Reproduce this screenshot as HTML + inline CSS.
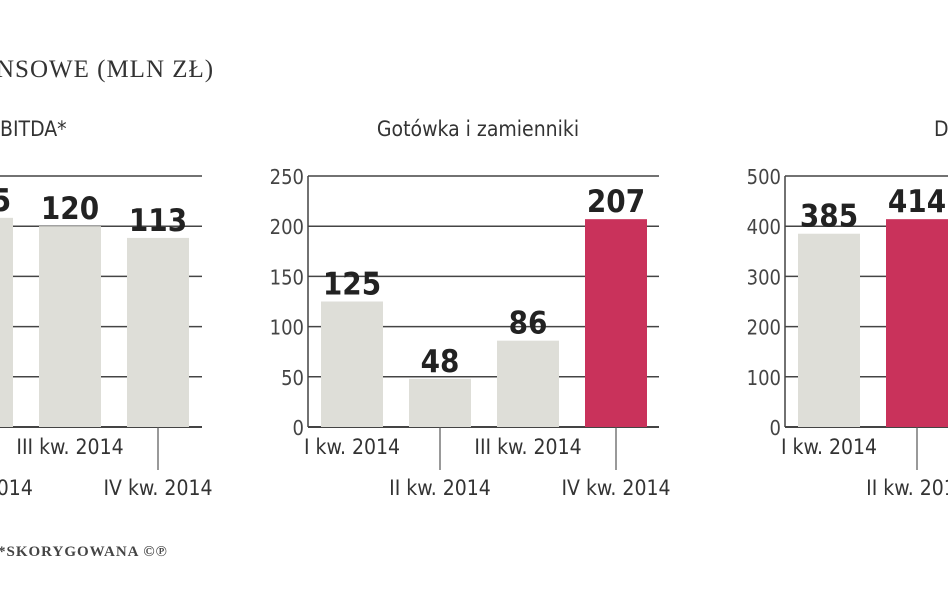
<!DOCTYPE html>
<html><head><meta charset="utf-8">
<style>
html,body{margin:0;padding:0;background:#fff;}
svg{display:block;}
.t{font-family:"Liberation Sans Narrow","DejaVu Sans Condensed","Liberation Sans",sans-serif;}
</style></head>
<body>
<svg id="c" width="948" height="593" viewBox="0 0 948 593" xmlns="http://www.w3.org/2000/svg">
<text x="-4" y="77" font-family="Liberation Serif,serif" font-size="25" fill="#333" letter-spacing="1">NSOWE (MLN ZŁ)</text>
<text class="t" x="0" y="136" font-size="21" fill="#333">BITDA*</text>
<text class="t" x="478" y="136" font-size="21" fill="#333" text-anchor="middle">Gotówka i zamienniki</text>
<text class="t" x="934" y="136" font-size="21" fill="#333">D</text>
<text x="-2" y="556" font-family="Liberation Serif,serif" font-size="15" font-weight="bold" fill="#444" letter-spacing="1">*SKORYGOWANA ©℗</text>
<g id="panels"></g>
</svg>
<script>
const cats = ["I kw. 2014","II kw. 2014","III kw. 2014","IV kw. 2014"];
const ebitdaValues = [110, 125, 120, 113];
const cashValues = [125, 48, 86, 207];
const debtValues = [385, 414, 400, 400];
const ebitdaTicks = [0, 30, 60, 90, 120, 150];
const cashTicks = [0, 50, 100, 150, 200, 250];
const debtTicks = [0, 100, 200, 300, 400, 500];
const ebitdaHighlight = [false,false,false,false];
const cashHighlight = [false,false,false,true];
const debtHighlight = [false,true,true,true];

const NS = "http://www.w3.org/2000/svg";
const root = document.getElementById('panels');
function mk(tag, attrs, parent){
  const e = document.createElementNS(NS, tag);
  for (const k in attrs) e.setAttribute(k, attrs[k]);
  (parent||root).appendChild(e);
  return e;
}
function panel(name, axisX, rightX, vals, ticks, hi, showAxis){
  const g = mk('g', {});
  
  
  const base = 427, top = 176;
  const maxV = ticks[ticks.length-1];
  const y = v => base - (v / maxV) * (base - top);
  const bx = i => axisX + 13 + i * 88;
  const bw = 62;
  ticks.forEach((t, i) => {
    const l = mk('line', {x1: axisX, x2: rightX, y1: y(t), y2: y(t), stroke: '#444', 'stroke-width': i === 0 ? 2 : 1.5}, g);
    
    
    if (showAxis) {
      const tx = mk('text', {x: axisX - 4, y: y(t) + 8, 'font-size': 20, fill: '#444', 'text-anchor': 'end', class: 't'}, g);
      tx.textContent = t;
      
      
    }
  });
  const ax = mk('line', {x1: axisX, x2: axisX, y1: top, y2: base, stroke: '#444', 'stroke-width': 1.5}, g);
  
  
  vals.forEach((v, i) => {
    const x = bx(i);
    if (x > 948) return;
    const r = mk('rect', {x: x, y: y(v), width: bw, height: base - y(v), fill: hi[i] ? '#c9325b' : '#deded8'}, g);
    
    
    const vt = mk('text', {x: x + bw/2, y: y(v) - 7, 'font-size': 31, 'font-weight': 'bold', fill: '#222', 'text-anchor': 'middle', class: 't'}, g);
    vt.textContent = v;
    
    
    const lower = i % 2 === 1;
    if (lower) {
      const tk = mk('line', {x1: x + bw/2, x2: x + bw/2, y1: base, y2: base + 43, stroke: '#555', 'stroke-width': 1.2}, g);
      
      
    }
    const ct = mk('text', {x: x + bw/2, y: lower ? base + 68 : base + 27, 'font-size': 21, fill: '#333', 'text-anchor': 'middle', class: 't'}, g);
    ct.textContent = cats[i];
    
    
  });
}
panel('ebitda', -150, 202, ebitdaValues, ebitdaTicks, ebitdaHighlight, false);
panel('cash', 308, 659, cashValues, cashTicks, cashHighlight, true);
panel('debt', 785, 948, debtValues, debtTicks, debtHighlight, true);
</script>
</body></html>
